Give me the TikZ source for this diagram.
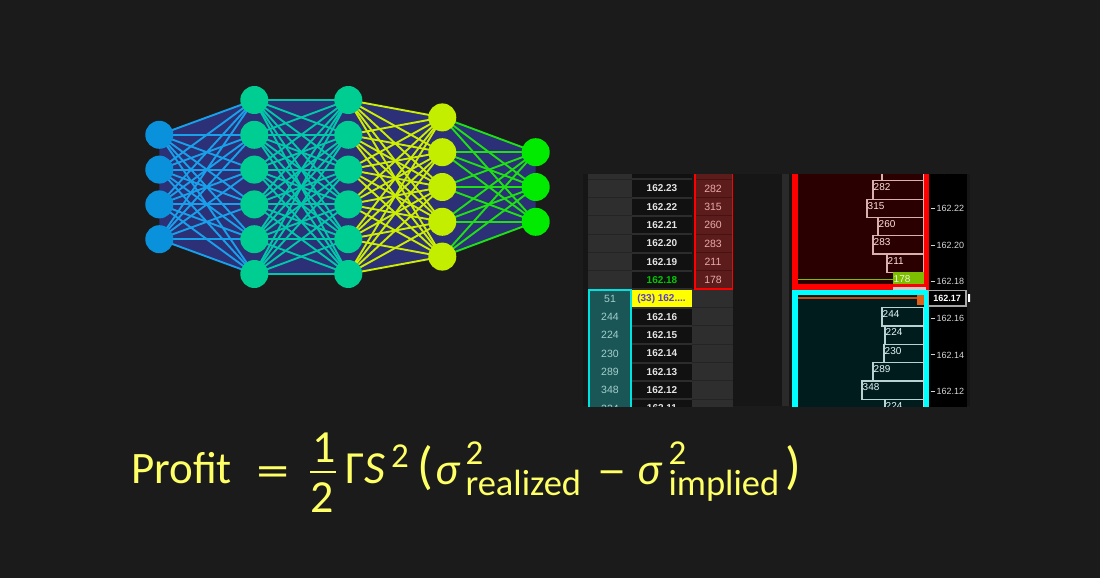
\documentclass[tikz,border=0pt]{standalone}
\usepackage{graphicx}
\usepackage{fontspec}
\newfontfamily\domfont{Liberation Sans}
\newfontfamily\eqfont{Carlito}
\usetikzlibrary{backgrounds}
\pgfdeclarelayer{bglayer}
\pgfdeclarelayer{edgelayer}
\pgfsetlayers{bglayer,edgelayer,main}
\definecolor{bgc}{RGB}{27,27,27}
\definecolor{navy}{RGB}{44,48,118}
\definecolor{nA}{RGB}{10,145,220}
\definecolor{nB}{RGB}{0,205,145}
\definecolor{nD}{RGB}{195,238,0}
\definecolor{nE}{RGB}{0,235,0}
\definecolor{eA}{RGB}{25,160,235}
\definecolor{eB}{RGB}{0,200,170}
\definecolor{eD}{RGB}{205,238,0}
\definecolor{eE}{RGB}{30,225,20}
\definecolor{shot}{RGB}{22,22,22}
\definecolor{gcell}{RGB}{46,46,46}
\definecolor{gsep}{RGB}{36,36,36}
\definecolor{pcell}{RGB}{17,17,17}
\definecolor{psep}{RGB}{44,44,44}
\definecolor{askc}{RGB}{92,28,28}
\definecolor{asksep}{RGB}{72,18,18}
\definecolor{askt}{RGB}{232,170,170}
\definecolor{bidc}{RGB}{26,86,86}
\definecolor{bidt}{RGB}{165,205,205}
\definecolor{cyanb}{RGB}{0,225,225}
\definecolor{cyanbr}{RGB}{0,255,255}
\definecolor{redb}{RGB}{255,0,0}
\definecolor{redbg}{RGB}{42,0,0}
\definecolor{cyanbg}{RGB}{0,28,28}
\definecolor{redbar}{RGB}{220,175,175}
\definecolor{cyanbar}{RGB}{185,210,210}
\definecolor{ygreen}{RGB}{125,190,0}
\definecolor{orng}{RGB}{200,74,16}
\definecolor{orngbox}{RGB}{225,96,24}
\definecolor{yel}{RGB}{255,255,0}
\definecolor{purp}{RGB}{90,60,210}
\definecolor{eqc}{RGB}{255,255,102}
\definecolor{pricet}{RGB}{228,228,228}
\definecolor{greent}{RGB}{0,200,0}
\definecolor{axt}{RGB}{215,215,215}
\definecolor{gapc}{RGB}{42,42,42}
\begin{document}
\begin{tikzpicture}[x=1pt,y=-1pt,
  nnode/.style={circle,minimum size=28pt,inner sep=0pt,draw=none},
  edgeA/.style={eA,line width=1.9pt},
  edgeB/.style={eB,line width=1.9pt},
  edgeD/.style={eD,line width=1.9pt},
  edgeE/.style={eE,line width=1.9pt},
  pricetxt/.style={font=\domfont\bfseries\fontsize{10}{12}\selectfont,text=pricet,inner sep=0pt},
  asktxt/.style={font=\domfont\fontsize{10.5}{12}\selectfont,text=askt,inner sep=0pt},
  bidtxt/.style={font=\domfont\fontsize{10.5}{12}\selectfont,text=bidt,inner sep=0pt},
  bartxt/.style={font=\domfont\fontsize{10}{12}\selectfont,inner sep=0pt,anchor=west},
  axtxt/.style={font=\domfont\fontsize{9}{11}\selectfont,text=axt,inner sep=0pt,anchor=west},
  eq/.style={text=eqc,inner sep=0pt,anchor=base west},
]
\begin{pgfonlayer}{bglayer}
\fill[bgc] (0,0) rectangle (1100,578);
\end{pgfonlayer}
\useasboundingbox (0,0) rectangle (1100,578);

% ---------------- neural network ----------------
\foreach \i in {0,...,3} \node[nnode,fill=nA] (a\i) at (159.3,134.8+34.8*\i) {};
\foreach \i in {0,...,5} \node[nnode,fill=nB] (b\i) at (254.3,100+34.8*\i) {};
\foreach \i in {0,...,5} \node[nnode,fill=nB] (c\i) at (348.3,100+34.8*\i) {};
\foreach \i in {0,...,4} \node[nnode,fill=nD] (d\i) at (442.3,117.4+34.8*\i) {};
\foreach \i in {0,...,2} \node[nnode,fill=nE] (e\i) at (535.7,152.2+34.8*\i) {};
\begin{pgfonlayer}{edgelayer}
\fill[navy] (a0.center) -- (b0.center) -- (c0.center) -- (d0.center) -- (e0.center)
  -- (e2.center) -- (d4.center) -- (c5.center) -- (b5.center) -- (a3.center) -- cycle;
\foreach \i in {0,...,3} \foreach \j in {0,...,5} \draw[edgeA] (a\i.center) -- (b\j.center);
\foreach \i in {0,...,5} \foreach \j in {0,...,5} \draw[edgeB] (b\i.center) -- (c\j.center);
\foreach \i in {0,...,5} \foreach \j in {0,...,4} \draw[edgeD] (c\i.center) -- (d\j.center);
\foreach \i in {0,...,4} \foreach \j in {0,...,2} \draw[edgeE] (d\i.center) -- (e\j.center);
\end{pgfonlayer}

% ---------------- order book screenshot ----------------
\begin{scope}
\clip (583,174) rectangle (970,406);
\fill[shot] (583,174) rectangle (970,406);
% bid column (grey above, teal below)
\fill[gcell] (588,170) rectangle (632,289.3);
\foreach \k in {-7,...,-1} {
  \pgfmathsetmacro\yt{289.3+18.33*\k}
  \draw[gsep,line width=1pt] (588,\yt) -- (632,\yt);
}
\fill[bidc] (588,289.3) rectangle (632,410);
\draw[cyanb,line width=2pt] (589,290.3) rectangle (631,420);
% price column
\fill[psep] (632,170) rectangle (692,410);
\foreach \k in {-7,...,6} {
  \pgfmathsetmacro\yt{289.3+18.33*\k}
  \fill[pcell] (632,\yt+0.9) rectangle (692,\yt+17.4);
}
\fill[yel] (632,289.8) rectangle (692,307.2);
% ask column (red box above, grey below)
\fill[gcell] (692,289.3) rectangle (733,410);
\foreach \k in {1,...,6} {
  \pgfmathsetmacro\yt{289.3+18.33*\k}
  \draw[gsep,line width=1pt] (692,\yt) -- (733,\yt);
}
\fill[askc] (694,170) rectangle (733,289.3);
\foreach \k in {-6,...,-1} {
  \pgfmathsetmacro\yt{289.3+18.33*\k}
  \draw[asksep,line width=1pt] (694,\yt) -- (733,\yt);
}
\draw[redb,line width=2pt] (694.5,165) rectangle (732.5,289);
% gap columns
\fill[shot] (733,174) rectangle (782,406);
\fill[gapc] (782,174) rectangle (789,406);
\fill[shot] (789,174) rectangle (792,406);
% texts of the ladder
\foreach \k/\p in {-7/162.24,-6/162.23,-5/162.22,-4/162.21,-3/162.20,-2/162.19,1/162.16,2/162.15,3/162.14,4/162.13,5/162.12,6/162.11}
  \node[pricetxt] (p\k) at (662,289.3+18.33*\k+9.2) {\p};
\node[pricetxt,text=greent] (pgreen) at (662,289.3-18.33+9.2) {162.18};
\node[pricetxt,text=purp] (pyel) at (661.5,298.5) {(33) 162....};
\foreach \k/\v in {-6/282,-5/315,-4/260,-3/283,-2/211,-1/178}
  \node[asktxt] (ask\k) at (713,289.3+18.33*\k+9.2) {\v};
\foreach \k/\v in {0/51,1/244,2/224,3/230,4/289,5/348,6/224}
  \node[bidtxt] (bid\k) at (610,289.3+18.33*\k+9.2) {\v};

% chart: ask (red) box
\fill[redbg] (792,170) rectangle (929,289.5);
\foreach \k/\xl/\v in {-7/882/,-6/873/282,-5/867/315,-4/878/260,-3/873/283,-2/887/211} {
  \pgfmathsetmacro\yt{289.3+18.33*\k+1.5}
  \draw[redbar,line width=1.3pt] (\xl,\yt) rectangle (924,\yt+18.33);
  \node[bartxt,text=white!88!red] (rb\k) at (\xl+0.5,\yt+6.5) {\v};
}
\fill[ygreen] (893,272.3) rectangle (924,291);
\node[bartxt,text=white!85!ygreen] (rbg) at (893.5,278.8) {178};
\draw[ygreen,line width=1.6pt] (797,279.6) -- (893,279.6);
\draw[redb,line width=5.5pt] (794.75,160) rectangle (926.25,286.75);
% chart: bid (cyan) box
\fill[cyanbg] (792,289.5) rectangle (929,420);
\foreach \k/\xl/\v in {1/882/244,2/885/224,3/884/230,4/873/289,5/862/348,6/885/224} {
  \pgfmathsetmacro\yt{289.3+18.33*\k}
  \draw[cyanbar,line width=1.3pt] (\xl,\yt) rectangle (924,\yt+18.33);
  \node[bartxt,text=white!90!cyan] (cb\k) at (\xl+0.5,\yt+6.5) {\v};
}
\draw[orng,line width=2pt] (798,297.7) -- (918,297.7);
\fill[orngbox] (917,292) rectangle (924,305);
\draw[cyanbr,line width=5.5pt] (794.75,292.25) rectangle (926.25,430);
\fill[white!80!black] (893,286.5) rectangle (926,289.5);
% price axis
\fill[black] (929,170) rectangle (967,410);
\foreach \k/\p in {-7/162.24,-5/162.22,-3/162.20,-1/162.18,1/162.16,3/162.14,5/162.12} {
  \pgfmathsetmacro\yc{289.3+18.33*\k+9.2+1.5}
  \draw[axt,line width=1pt] (930.5,\yc) -- (934.5,\yc);
  \node[axtxt] (ax\k) at (936.5,\yc) {\p};
}
\draw[white!65!black,line width=1.2pt,fill=black] (928.5,290.5) rectangle (966,306);
\node[axtxt,text=white,font=\domfont\bfseries\fontsize{9}{11}\selectfont,anchor=center] (axcur) at (947.2,298.3) {162.17};
\fill[white] (968,294) rectangle (971,302);
\end{scope}

% ---------------- formula ----------------
\node[eq,font=\eqfont\fontsize{45}{50}\selectfont] (f1) at (131,483) {Profit};
\node[eq,font=\eqfont\fontsize{46}{50}\selectfont] (f2) at (256,486) {\scalebox{1.45}[1]{=}};
\node[eq,font=\eqfont\fontsize{46}{50}\selectfont,anchor=base] (f3) at (324,462) {1};
\draw[eqc,line width=2pt] (310,471.7) -- (336,471.7);
\node[eq,font=\eqfont\fontsize{46}{50}\selectfont,anchor=base] (f4) at (322.5,512) {2};
\node[eq,font=\eqfont\fontsize{46}{50}\selectfont] (f5) at (345,483) {Γ\textit{S}};
\node[eq,font=\eqfont\fontsize{35}{40}\selectfont] (f6) at (391,467) {2};
\node[eq,font=\eqfont\fontsize{52}{56}\selectfont] (f7) at (417,483) {(};
\node[eq,font=\eqfont\fontsize{45}{50}\selectfont] (f8) at (435,484)
  {\textit{σ}\hspace{5pt}\makebox[0pt][l]{\raisebox{20pt}{\fontsize{35}{40}\selectfont 2}}\raisebox{-11pt}{\fontsize{36.5}{40}\selectfont realized}};
\node[eq,font=\eqfont\fontsize{45}{50}\selectfont] (f11) at (597,486) {\scalebox{1.3}[1]{−}};
\node[eq,font=\eqfont\fontsize{45}{50}\selectfont] (f12) at (637,484)
  {\textit{σ}\hspace{6pt}\makebox[0pt][l]{\raisebox{20pt}{\fontsize{35}{40}\selectfont 2}}\raisebox{-11pt}{\fontsize{36.5}{40}\selectfont implied}};
\node[eq,font=\eqfont\fontsize{52}{56}\selectfont] (f15) at (785,483) {)};
\end{tikzpicture}
\end{document}
